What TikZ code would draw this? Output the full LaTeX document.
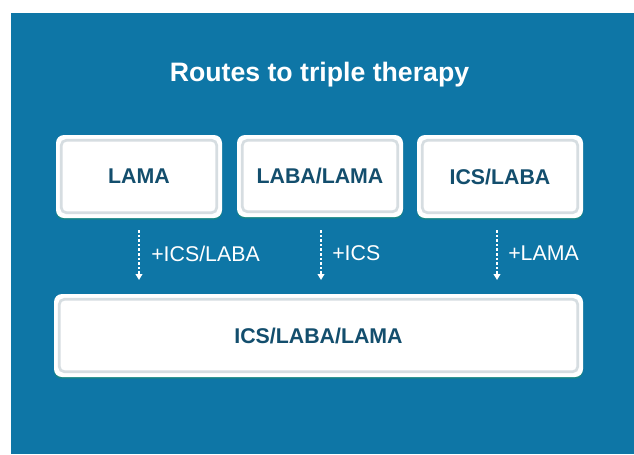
\documentclass[tikz,border=0pt]{standalone}
\usepackage{fontspec}
\setmainfont{Liberation Sans}
\usetikzlibrary{arrows.meta}
\definecolor{bgblue}{HTML}{0E76A6}
\definecolor{txtdark}{HTML}{134E6D}
\definecolor{rimgray}{HTML}{D6DDE1}
\definecolor{shadowc}{HTML}{178585}
\tikzset{
  x=0.75pt, y=-0.75pt,
  box/.style={fill=white, rounded corners=6pt, inner sep=0pt,
    font=\fontsize{16}{19}\selectfont\bfseries, text=txtdark,
    preaction={fill=shadowc, transform canvas={yshift=-1.3pt}}},
  rim/.style={draw=rimgray, line width=2pt, rounded corners=4pt},
  stepflow/.style={white, line width=1.9pt, dash pattern=on 1.9pt off 1.55pt, line cap=butt,
    -{Triangle[width=5pt,length=4.5pt]}, shorten >=0pt},
  steplabel/.style={anchor=west, text=white, font=\fontsize{16}{19}\selectfont, inner sep=0pt},
}
\begin{document}
\begin{tikzpicture}
\useasboundingbox (0,0) rectangle (634,454);
\fill[white] (0,0) rectangle (634,454);
\fill[bgblue] (11,13) rectangle (634,454);
\node[text=white, font=\fontsize{20}{24}\selectfont\bfseries] (title) at (319.5,74.5) {Routes to triple therapy};

\node[box, minimum width=124.5pt, minimum height=62.25pt] (a) at (139,176.5) {LAMA};
\node[box, minimum width=124.5pt, minimum height=61.5pt] (b) at (320,176) {LABA/LAMA};
\node[box, minimum width=124.5pt, minimum height=62.25pt] (c) at (500,176.5) {ICS/LABA};
\node[box, minimum width=396.75pt, minimum height=62.25pt] (d) at (318.5,335.5) {ICS/LABA/LAMA};

\foreach \n in {a,b,c,d}{
  \draw[rim] ([xshift=4.1pt,yshift=-4.1pt]\n.north west) rectangle ([xshift=-4.1pt,yshift=4.1pt]\n.south east);
}

\coordinate (s1) at (139,230); \coordinate (e1) at (139,280);
\coordinate (s2) at (321,230); \coordinate (e2) at (321,280);
\coordinate (s3) at (497,230); \coordinate (e3) at (497,280);
\draw[stepflow] (s1) -- (e1);
\draw[stepflow] (s2) -- (e2);
\draw[stepflow] (s3) -- (e3);
\node[steplabel] (l1) at (151,253.5) {+ICS/LABA};
\node[steplabel] (l2) at (332,253.5) {+ICS};
\node[steplabel] (l3) at (508,253.5) {+LAMA};
\end{tikzpicture}
\end{document}
